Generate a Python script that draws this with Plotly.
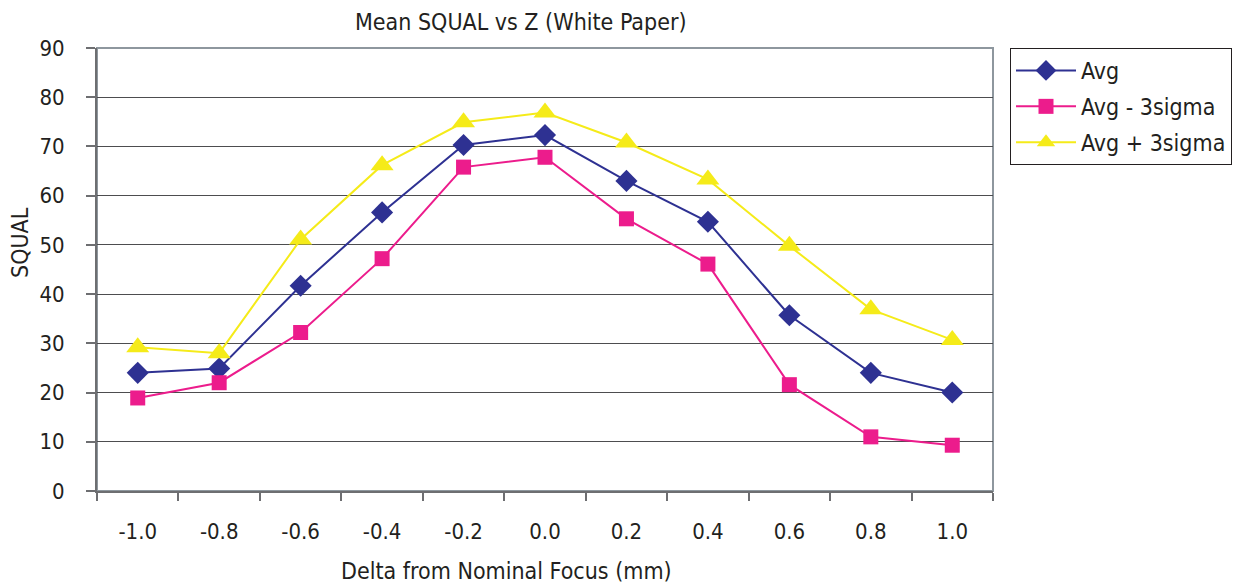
import plotly.graph_objects as go

categories = ["-1.0", "-0.8", "-0.6", "-0.4", "-0.2", "0.0", "0.2", "0.4", "0.6", "0.8", "1.0"]
avg = [24.0, 24.9, 41.7, 56.6, 70.3, 72.3, 63.0, 54.7, 35.7, 24.0, 20.0]
avg_minus = [18.9, 22.0, 32.2, 47.2, 65.8, 67.8, 55.3, 46.1, 21.6, 11.0, 9.3]
avg_plus = [29.2, 28.0, 51.1, 66.2, 74.9, 76.9, 70.8, 63.3, 49.8, 36.9, 30.7]
y_ticks = [0, 10, 20, 30, 40, 50, 60, 70, 80, 90]

FONT = "Liberation Sans Narrow, DejaVu Sans Condensed, Arial Narrow, sans-serif"
TXT = "#231F20"

# the page body has an 8px margin, so the figure is drawn 8px smaller and offset
OFF = 8
W, H = 1246 - OFF, 586 - OFF
L, R, T, B = 97 - OFF, 1246 - 993, 48 - OFF, 586 - 491
PW, PH = W - L - R, H - T - B

fig = go.Figure()
series = [
    ("Avg", avg, "#2E3192", "diamond", 17),
    ("Avg - 3sigma", avg_minus, "#EC1C8C", "square", 15),
    ("Avg + 3sigma", avg_plus, "#F5EB19", "triangle-up", 20),
]
for i, (name, vals, col, sym, sz) in enumerate(series):
    fig.add_trace(go.Scatter(
        x=categories, y=vals, name=name, mode="lines+markers",
        line=dict(color=col, width=2),
        marker=dict(symbol=sym, size=sz, color=col, line=dict(width=0)),
        legendgroup=f"g{i}",
    ))

fig.update_layout(
    width=W, height=H,
    margin=dict(l=L, r=R, t=T, b=B),
    paper_bgcolor="white", plot_bgcolor="white",
    font=dict(family=FONT, size=22, color=TXT),
    showlegend=True,
    legend=dict(
        x=(1010 - 97) / PW, y=1.0, xanchor="left", yanchor="top",
        bordercolor="#231F20", borderwidth=1, bgcolor="white",
        font=dict(family=FONT, size=23, color=TXT),
        itemwidth=60, tracegroupgap=3,
    ),
    xaxis=dict(
        type="category", categoryorder="array", categoryarray=categories,
        range=[-0.5, 10.5], tickson="boundaries", ticks="outside", ticklen=8,
        tickcolor="#6D6E71", tickwidth=2, showgrid=False,
        showline=True, linecolor="#6D6E71", linewidth=2,
        tickfont=dict(family=FONT, size=22, color=TXT),
        ticklabelstandoff=20, zeroline=False,
    ),
    yaxis=dict(
        range=[0, 90], tickvals=y_ticks, ticks="outside", ticklen=9,
        tickcolor="#6D6E71", tickwidth=2,
        showgrid=True, gridcolor="#4D4D4F", gridwidth=1.2,
        showline=True, linecolor="#6D6E71", linewidth=2,
        tickfont=dict(family=FONT, size=22, color=TXT),
        ticklabelstandoff=17, zeroline=False,
    ),
)

# plot-area border (top and right)
fig.add_shape(type="rect", xref="paper", yref="paper", x0=0, x1=1, y0=0, y1=1,
              line=dict(color="#8E979E", width=2), layer="below")

fig.add_annotation(text="Mean SQUAL vs Z (White Paper)", xref="paper", yref="paper",
                   x=(521 - 97) / PW, y=1.0, yshift=26, showarrow=False,
                   xanchor="center", yanchor="middle",
                   font=dict(family=FONT, size=23, color=TXT))
fig.add_annotation(text="Delta from Nominal Focus (mm)", xref="paper", yref="paper",
                   x=(506 - 97) / PW, y=0, yshift=-80, showarrow=False,
                   xanchor="center", yanchor="middle",
                   font=dict(family=FONT, size=23, color=TXT))
fig.add_annotation(text="SQUAL", xref="paper", yref="paper",
                   x=0, xshift=-77, y=(491 - 243) / PH, showarrow=False,
                   textangle=-90, xanchor="center", yanchor="middle",
                   font=dict(family=FONT, size=23, color=TXT))

fig.write_html("out.html")
